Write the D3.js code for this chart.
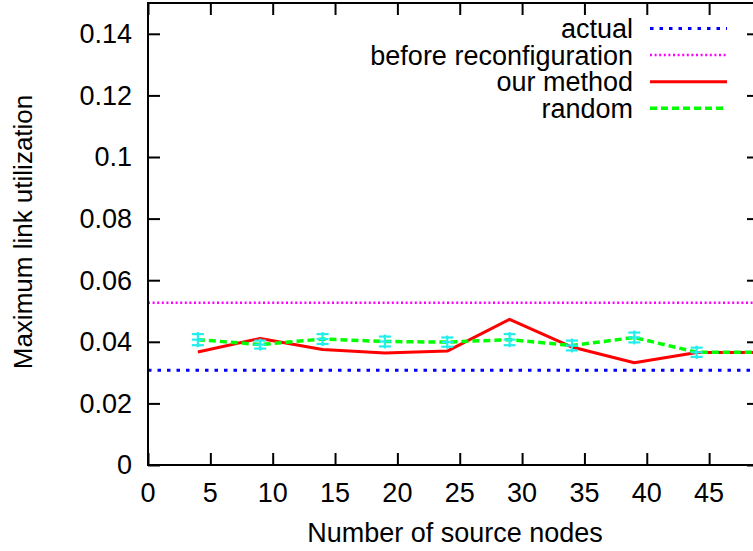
<!DOCTYPE html>
<html>
<head>
<meta charset="utf-8">
<script src="https://cdn.jsdelivr.net/npm/d3@7"></script>
<style>
  body { margin: 0; background: #fff; }
  text { font-family: "Liberation Sans", Arial, Helvetica, sans-serif; fill: #000; }
</style>
</head>
<body>
<div id="chart"></div>
<script>
// data
const sourceNodes = [4, 9, 14, 19, 24, 29, 34, 39, 44, 49];
const ourMethod = [0.0367, 0.0411, 0.0375, 0.0364, 0.0370, 0.0473, 0.0383, 0.0332, 0.0365, 0.0365];
const randomMean = [0.0407, 0.0391, 0.0409, 0.0401, 0.0399, 0.0407, 0.0388, 0.0414, 0.0366, 0.0366];
const randomErr = [0.0018, 0.0013, 0.0016, 0.0016, 0.0015, 0.0018, 0.0016, 0.0016, 0.0015, 0.0015];
const actualValue = 0.0308;
const beforeValue = 0.0527;
const xTicks = [0, 5, 10, 15, 20, 25, 30, 35, 40, 45];
const yTicks = [0, 0.02, 0.04, 0.06, 0.08, 0.1, 0.12, 0.14];
const legendNames = ['actual', 'before reconfiguration', 'our method', 'random'];

const W = 753, H = 551;
const plotLeft = 148, plotRight = 759, plotTop = 3, plotBottom = 465;
const fontSize = 27;

const svg = d3.select('#chart').append('svg')
  .attr('width', W).attr('height', H);
svg.append('rect').attr('width', W).attr('height', H).attr('fill', '#fff');

const x = d3.scaleLinear().domain([0, 49]).range([plotLeft, plotRight]);
const y = d3.scaleLinear().domain([0, 0.15]).range([plotBottom, plotTop]);

svg.append('clipPath').attr('id', 'plotClip')
  .append('rect').attr('x', plotLeft).attr('y', plotTop)
  .attr('width', plotRight - plotLeft).attr('height', plotBottom - plotTop);

// styles for each series, same order as legendNames
const styles = [
  { color: '#0000ff', width: 3, dash: '3.5,6' },
  { color: '#ff00ff', width: 2.5, dash: '2,2.6' },
  { color: '#ff0000', width: 3, dash: null },
  { color: '#00ff00', width: 3.5, dash: '7,4' }
];

const plot = svg.append('g').attr('clip-path', 'url(#plotClip)');

// horizontal reference lines
[actualValue, beforeValue].forEach((v, i) => {
  plot.append('line')
    .attr('x1', x(0)).attr('x2', x(49))
    .attr('y1', y(v)).attr('y2', y(v))
    .attr('stroke', styles[i].color)
    .attr('stroke-width', styles[i].width)
    .attr('stroke-dasharray', styles[i].dash);
});

const line = d3.line().x(d => x(d[0])).y(d => y(d[1]));

plot.append('path')
  .datum(sourceNodes.map((n, i) => [n, ourMethod[i]]))
  .attr('d', line).attr('fill', 'none')
  .attr('stroke', styles[2].color).attr('stroke-width', styles[2].width)
  .attr('stroke-linejoin', 'round');

plot.append('path')
  .datum(sourceNodes.map((n, i) => [n, randomMean[i]]))
  .attr('d', line).attr('fill', 'none')
  .attr('stroke', styles[3].color).attr('stroke-width', styles[3].width)
  .attr('stroke-dasharray', styles[3].dash);

// error bars for random, with a plus at the mean
const errColor = '#22eeee';
const bars = plot.append('g').selectAll('g')
  .data(sourceNodes.map((n, i) => ({ n: n, m: randomMean[i], e: randomErr[i] })))
  .enter().append('g')
  .attr('stroke', errColor).attr('stroke-width', 2.2);

bars.append('line')
  .attr('x1', d => x(d.n)).attr('x2', d => x(d.n))
  .attr('y1', d => y(d.m - d.e) + 2).attr('y2', d => y(d.m + d.e) - 2);
bars.append('line')
  .attr('x1', d => x(d.n) - 6).attr('x2', d => x(d.n) + 6)
  .attr('y1', d => y(d.m - d.e)).attr('y2', d => y(d.m - d.e));
bars.append('line')
  .attr('x1', d => x(d.n) - 6).attr('x2', d => x(d.n) + 6)
  .attr('y1', d => y(d.m + d.e)).attr('y2', d => y(d.m + d.e));
bars.append('line')
  .attr('x1', d => x(d.n) - 6).attr('x2', d => x(d.n) + 6)
  .attr('y1', d => y(d.m)).attr('y2', d => y(d.m));

// axes: ticks inward on all four sides
const tickLen = 12;
svg.append('g').attr('transform', `translate(0,${plotBottom})`)
  .call(d3.axisTop(x).tickValues(xTicks).tickSize(tickLen).tickFormat(''))
  .call(g => g.select('.domain').remove());
svg.append('g').attr('transform', `translate(0,${plotTop})`)
  .call(d3.axisBottom(x).tickValues(xTicks).tickSize(tickLen).tickFormat(''))
  .call(g => g.select('.domain').remove());
svg.append('g').attr('transform', `translate(${plotLeft},0)`)
  .call(d3.axisRight(y).tickValues(yTicks).tickSize(tickLen).tickFormat(''))
  .call(g => g.select('.domain').remove());
svg.append('g').attr('transform', `translate(${plotRight},0)`)
  .call(d3.axisLeft(y).tickValues(yTicks).tickSize(tickLen).tickFormat(''))
  .call(g => g.select('.domain').remove());
svg.selectAll('.tick line').attr('stroke', '#000').attr('stroke-width', 2);

svg.append('rect')
  .attr('x', plotLeft).attr('y', plotTop)
  .attr('width', plotRight - plotLeft).attr('height', plotBottom - plotTop)
  .attr('fill', 'none').attr('stroke', '#000').attr('stroke-width', 2);

// tick labels
svg.append('g').selectAll('text').data(xTicks).enter().append('text')
  .attr('x', d => x(d)).attr('y', 502)
  .attr('text-anchor', 'middle').attr('font-size', fontSize)
  .text(d => d);
svg.append('g').selectAll('text').data(yTicks).enter().append('text')
  .attr('x', 132).attr('y', d => y(d)).attr('dy', '0.35em')
  .attr('text-anchor', 'end').attr('font-size', fontSize)
  .text(d => d3.format('')(d));

// axis titles
svg.append('text')
  .attr('x', 455).attr('y', 542)
  .attr('text-anchor', 'middle').attr('font-size', fontSize)
  .text('Number of source nodes');
svg.append('text')
  .attr('transform', `translate(31.5,232) rotate(-90)`)
  .attr('text-anchor', 'middle').attr('font-size', 26)
  .text('Maximum link utilization');

// legend, top right
const legend = svg.append('g').selectAll('g').data(legendNames).enter().append('g')
  .attr('transform', (d, i) => `translate(0,${28.5 + i * 26.6})`);
legend.append('text')
  .attr('x', 633).attr('dy', '0.35em')
  .attr('text-anchor', 'end').attr('font-size', fontSize)
  .text(d => d);
legend.append('line')
  .attr('x1', 650).attr('x2', 727)
  .attr('stroke', (d, i) => styles[i].color)
  .attr('stroke-width', (d, i) => styles[i].width)
  .attr('stroke-dasharray', (d, i) => styles[i].dash);
</script>
</body>
</html>
